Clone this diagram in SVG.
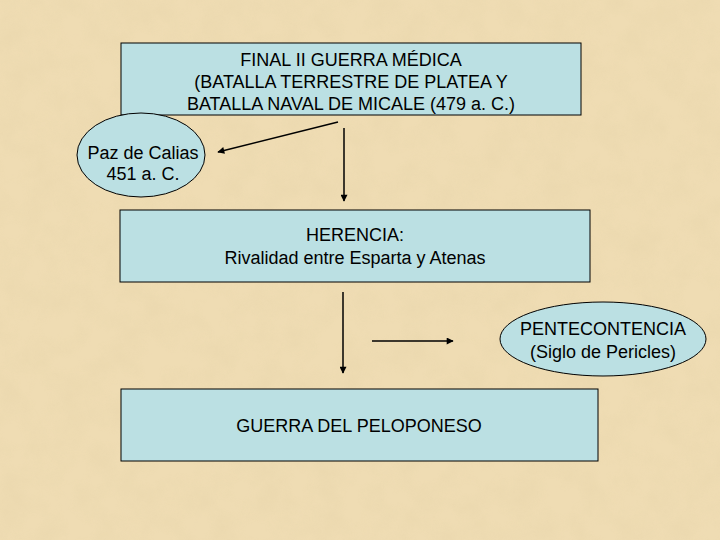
<svg xmlns="http://www.w3.org/2000/svg" width="720" height="540" viewBox="0 0 720 540">
<defs>
<style>
.box{fill:#bbe0e3;stroke:#000;stroke-width:1}
.t{font-family:"Liberation Sans",Arial,sans-serif;font-size:18px;fill:#000;text-anchor:middle}
.c{stroke:#000;stroke-width:1.5;fill:none;marker-end:url(#ah)}
</style>
<marker id="ah" viewBox="0 0 10 10" refX="9" refY="5" markerWidth="8" markerHeight="7" orient="auto" markerUnits="userSpaceOnUse">
<path d="M0,0 L10,5 L0,10 z" fill="#000"/>
</marker>
<filter id="tex" x="0" y="0" width="100%" height="100%">
<feTurbulence type="fractalNoise" baseFrequency="0.035" numOctaves="4" seed="3"/>
<feColorMatrix type="matrix" values="0 0 0 0 0.82  0 0 0 0 0.68  0 0 0 0 0.42  0 0 0 1.4 -0.45"/>
</filter>
</defs>
<rect width="720" height="540" fill="#efdcb3"/>
<rect width="720" height="540" filter="url(#tex)" opacity="0.8"/>
<g id="connectors">
<line class="c" x1="338" y1="122" x2="218" y2="152"/>
<line class="c" x1="344" y1="128" x2="344" y2="201"/>
<line class="c" x1="343" y1="292" x2="343" y2="373"/>
<line class="c" x1="372" y1="341" x2="453" y2="341"/>
</g>
<g id="final">
<rect class="box" x="121" y="43" width="460" height="72"/>
<text class="t" x="351" y="66">FINAL II GUERRA MÉDICA</text>
<text class="t" x="351" y="88">(BATALLA TERRESTRE DE PLATEA Y</text>
<text class="t" x="351" y="110">BATALLA NAVAL DE MICALE (479 a. C.)</text>
</g>
<g id="paz">
<ellipse class="box" cx="141" cy="155" rx="64" ry="42"/>
<text class="t" x="143" y="159">Paz de Calias</text>
<text class="t" x="143" y="180">451 a. C.</text>
</g>
<g id="herencia">
<rect class="box" x="120" y="210" width="470" height="72"/>
<text class="t" x="355" y="241">HERENCIA:</text>
<text class="t" x="355" y="264">Rivalidad entre Esparta y Atenas</text>
</g>
<g id="pentecontencia">
<ellipse class="box" cx="603" cy="339" rx="103" ry="37"/>
<text class="t" x="603" y="335">PENTECONTENCIA</text>
<text class="t" x="603" y="358">(Siglo de Pericles)</text>
</g>
<g id="peloponeso">
<rect class="box" x="121" y="389" width="477" height="72"/>
<text class="t" x="359" y="432">GUERRA DEL PELOPONESO</text>
</g>
</svg>
